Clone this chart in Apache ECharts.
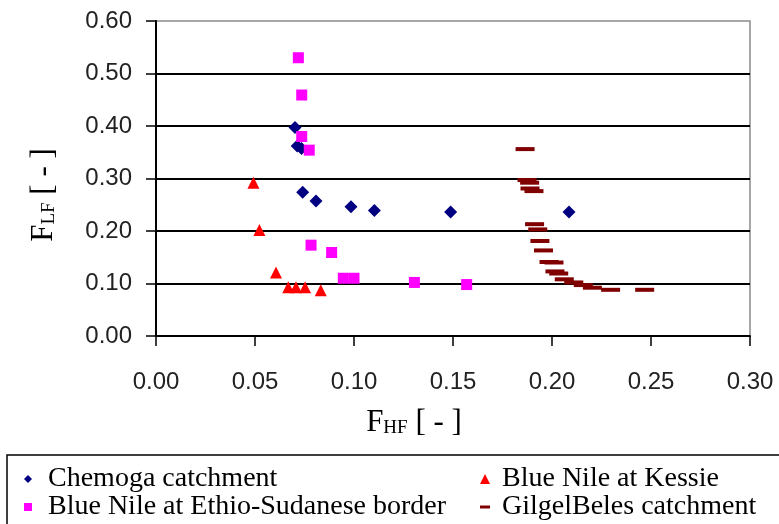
<!DOCTYPE html>
<html>
<head>
<meta charset="utf-8">
<script src="https://cdn.jsdelivr.net/npm/echarts@6/dist/echarts.min.js"></script>
<style>
html,body{margin:0;padding:0;background:#fff;}
#chart{width:779px;height:524px;}
</style>
</head>
<body>
<div id="chart"></div>
<script>
// ---- data ----
var seriesNames = ['Chemoga catchment', 'Blue Nile at Kessie', 'Blue Nile at Ethio-Sudanese border', 'GilgelBeles catchment'];

var chemogaX = [0.0702, 0.0713, 0.0735, 0.0741, 0.0808, 0.0985, 0.1103, 0.1488, 0.2086];
var chemogaY = [0.397, 0.362, 0.357, 0.274, 0.257, 0.246, 0.239, 0.236, 0.236];

var kessieX = [0.0492, 0.0522, 0.0606, 0.0668, 0.0707, 0.0753, 0.0832];
var kessieY = [0.292, 0.202, 0.121, 0.093, 0.093, 0.093, 0.087];

var ethioX = [0.0719, 0.0736, 0.0736, 0.0774, 0.0783, 0.0887, 0.0946, 0.1000, 0.1305, 0.1569];
var ethioY = [0.530, 0.459, 0.380, 0.354, 0.173, 0.159, 0.110, 0.110, 0.102, 0.098];

var gilgelX = [0.1864, 0.1874, 0.1887, 0.1889, 0.1909, 0.1912, 0.1928, 0.1939, 0.1957, 0.1985, 0.2010, 0.2015, 0.2034, 0.2062, 0.2110, 0.2158, 0.2204, 0.2296, 0.2468];
var gilgelY = [0.356, 0.297, 0.292, 0.281, 0.276, 0.213, 0.203, 0.181, 0.163, 0.141, 0.140, 0.123, 0.119, 0.108, 0.102, 0.097, 0.092, 0.088, 0.088];

var xTicks = [0, 0.05, 0.10, 0.15, 0.20, 0.25, 0.30];
var yTicks = [0, 0.10, 0.20, 0.30, 0.40, 0.50, 0.60];

function pairs(xs, ys) { return xs.map(function (x, i) { return [x, ys[i]]; }); }

var chart = echarts.init(document.getElementById('chart'), null, {renderer: 'canvas'});

var labelFont = {fontFamily: 'Liberation Sans', fontSize: 24, color: '#222'};
var serif = 'Liberation Serif';

var option = {
  animation: false,
  backgroundColor: '#ffffff',
  grid: {left: 156, top: 21, right: 29, bottom: 188, show: true, borderColor: '#8a8a8a', borderWidth: 1.5, backgroundColor: 'transparent'},
  xAxis: {
    type: 'value', min: xTicks[0], max: xTicks[xTicks.length - 1], interval: 0.05,
    axisLine: {show: true, lineStyle: {color: '#000', width: 2}},
    axisTick: {show: true, inside: false, length: 10, lineStyle: {color: '#000', width: 1.5}},
    splitLine: {show: false},
    axisLabel: Object.assign({margin: 34, lineHeight: 24, formatter: function (v) { return v.toFixed(2); }}, labelFont)
  },
  yAxis: {
    type: 'value', min: yTicks[0], max: yTicks[yTicks.length - 1], interval: 0.1,
    axisLine: {show: true, lineStyle: {color: '#000', width: 2}},
    axisTick: {show: true, inside: false, length: 10, lineStyle: {color: '#000', width: 1.5}},
    splitLine: {show: true, lineStyle: {color: ['#000', '#000', '#000', '#000', '#000', '#000', 'rgba(0,0,0,0)'], width: 2}},
    axisLabel: Object.assign({margin: 24, formatter: function (v) { return v.toFixed(2); }}, labelFont)
  },
  legend: [
    {
      orient: 'vertical', left: 24, top: 465, padding: 0, itemGap: 0,
      itemWidth: 8, itemHeight: 8, selectedMode: false,
      data: [seriesNames[0], seriesNames[2]],
      textStyle: {fontFamily: serif, fontSize: 28, color: '#000', lineHeight: 22, padding: [0, 0, 0, 11]}
    },
    {
      orient: 'vertical', left: 480, top: 465, padding: 0, itemGap: 0,
      itemWidth: 10, itemHeight: 10, selectedMode: false,
      data: [{name: seriesNames[1]}, {name: seriesNames[3], icon: 'path://M0,0h10v3h-10z'}],
      textStyle: {fontFamily: serif, fontSize: 28, color: '#000', lineHeight: 22, padding: [0, 0, 0, 7]}
    }
  ],
  graphic: [
    {
      type: 'rect', silent: true, z: 10,
      shape: {x: 7, y: 455, width: 800, height: 100},
      style: {fill: 'none', stroke: '#000', lineWidth: 1.5}
    },
    {
      type: 'text', x: 414, y: 422, z: 10,
      style: {
        text: '{a|F}{b|HF}{a| [ - ]}', align: 'center', verticalAlign: 'middle',
        rich: {
          a: {fontFamily: serif, fontSize: 31, fill: '#000', lineHeight: 32, verticalAlign: 'bottom'},
          b: {fontFamily: serif, fontSize: 19, fill: '#000', lineHeight: 32, verticalAlign: 'bottom'}
        }
      }
    },
    {
      type: 'text', x: 43, y: 195, z: 10, rotation: Math.PI / 2,
      style: {
        text: '{a|F}{b|LF}{a| [ - ]}', align: 'center', verticalAlign: 'middle',
        rich: {
          a: {fontFamily: serif, fontSize: 31, fill: '#000', lineHeight: 32, verticalAlign: 'bottom'},
          b: {fontFamily: serif, fontSize: 19, fill: '#000', lineHeight: 32, verticalAlign: 'bottom'}
        }
      }
    }
  ],
  series: [
    {name: seriesNames[0], type: 'scatter', symbol: 'diamond', symbolSize: 13, itemStyle: {color: '#000080', opacity: 1}, data: pairs(chemogaX, chemogaY), z: 4},
    {name: seriesNames[1], type: 'scatter', symbol: 'triangle', symbolSize: 12, itemStyle: {color: '#ff0000', opacity: 1}, data: pairs(kessieX, kessieY), z: 3},
    {name: seriesNames[2], type: 'scatter', symbol: 'rect', symbolSize: 11, itemStyle: {color: '#ff00ff', opacity: 1}, data: pairs(ethioX, ethioY), z: 5},
    {name: seriesNames[3], type: 'scatter', symbol: 'rect', symbolSize: [19, 4], itemStyle: {color: '#800000', opacity: 1}, data: pairs(gilgelX, gilgelY), z: 3}
  ]
};
chart.setOption(option);
</script>
</body>
</html>
